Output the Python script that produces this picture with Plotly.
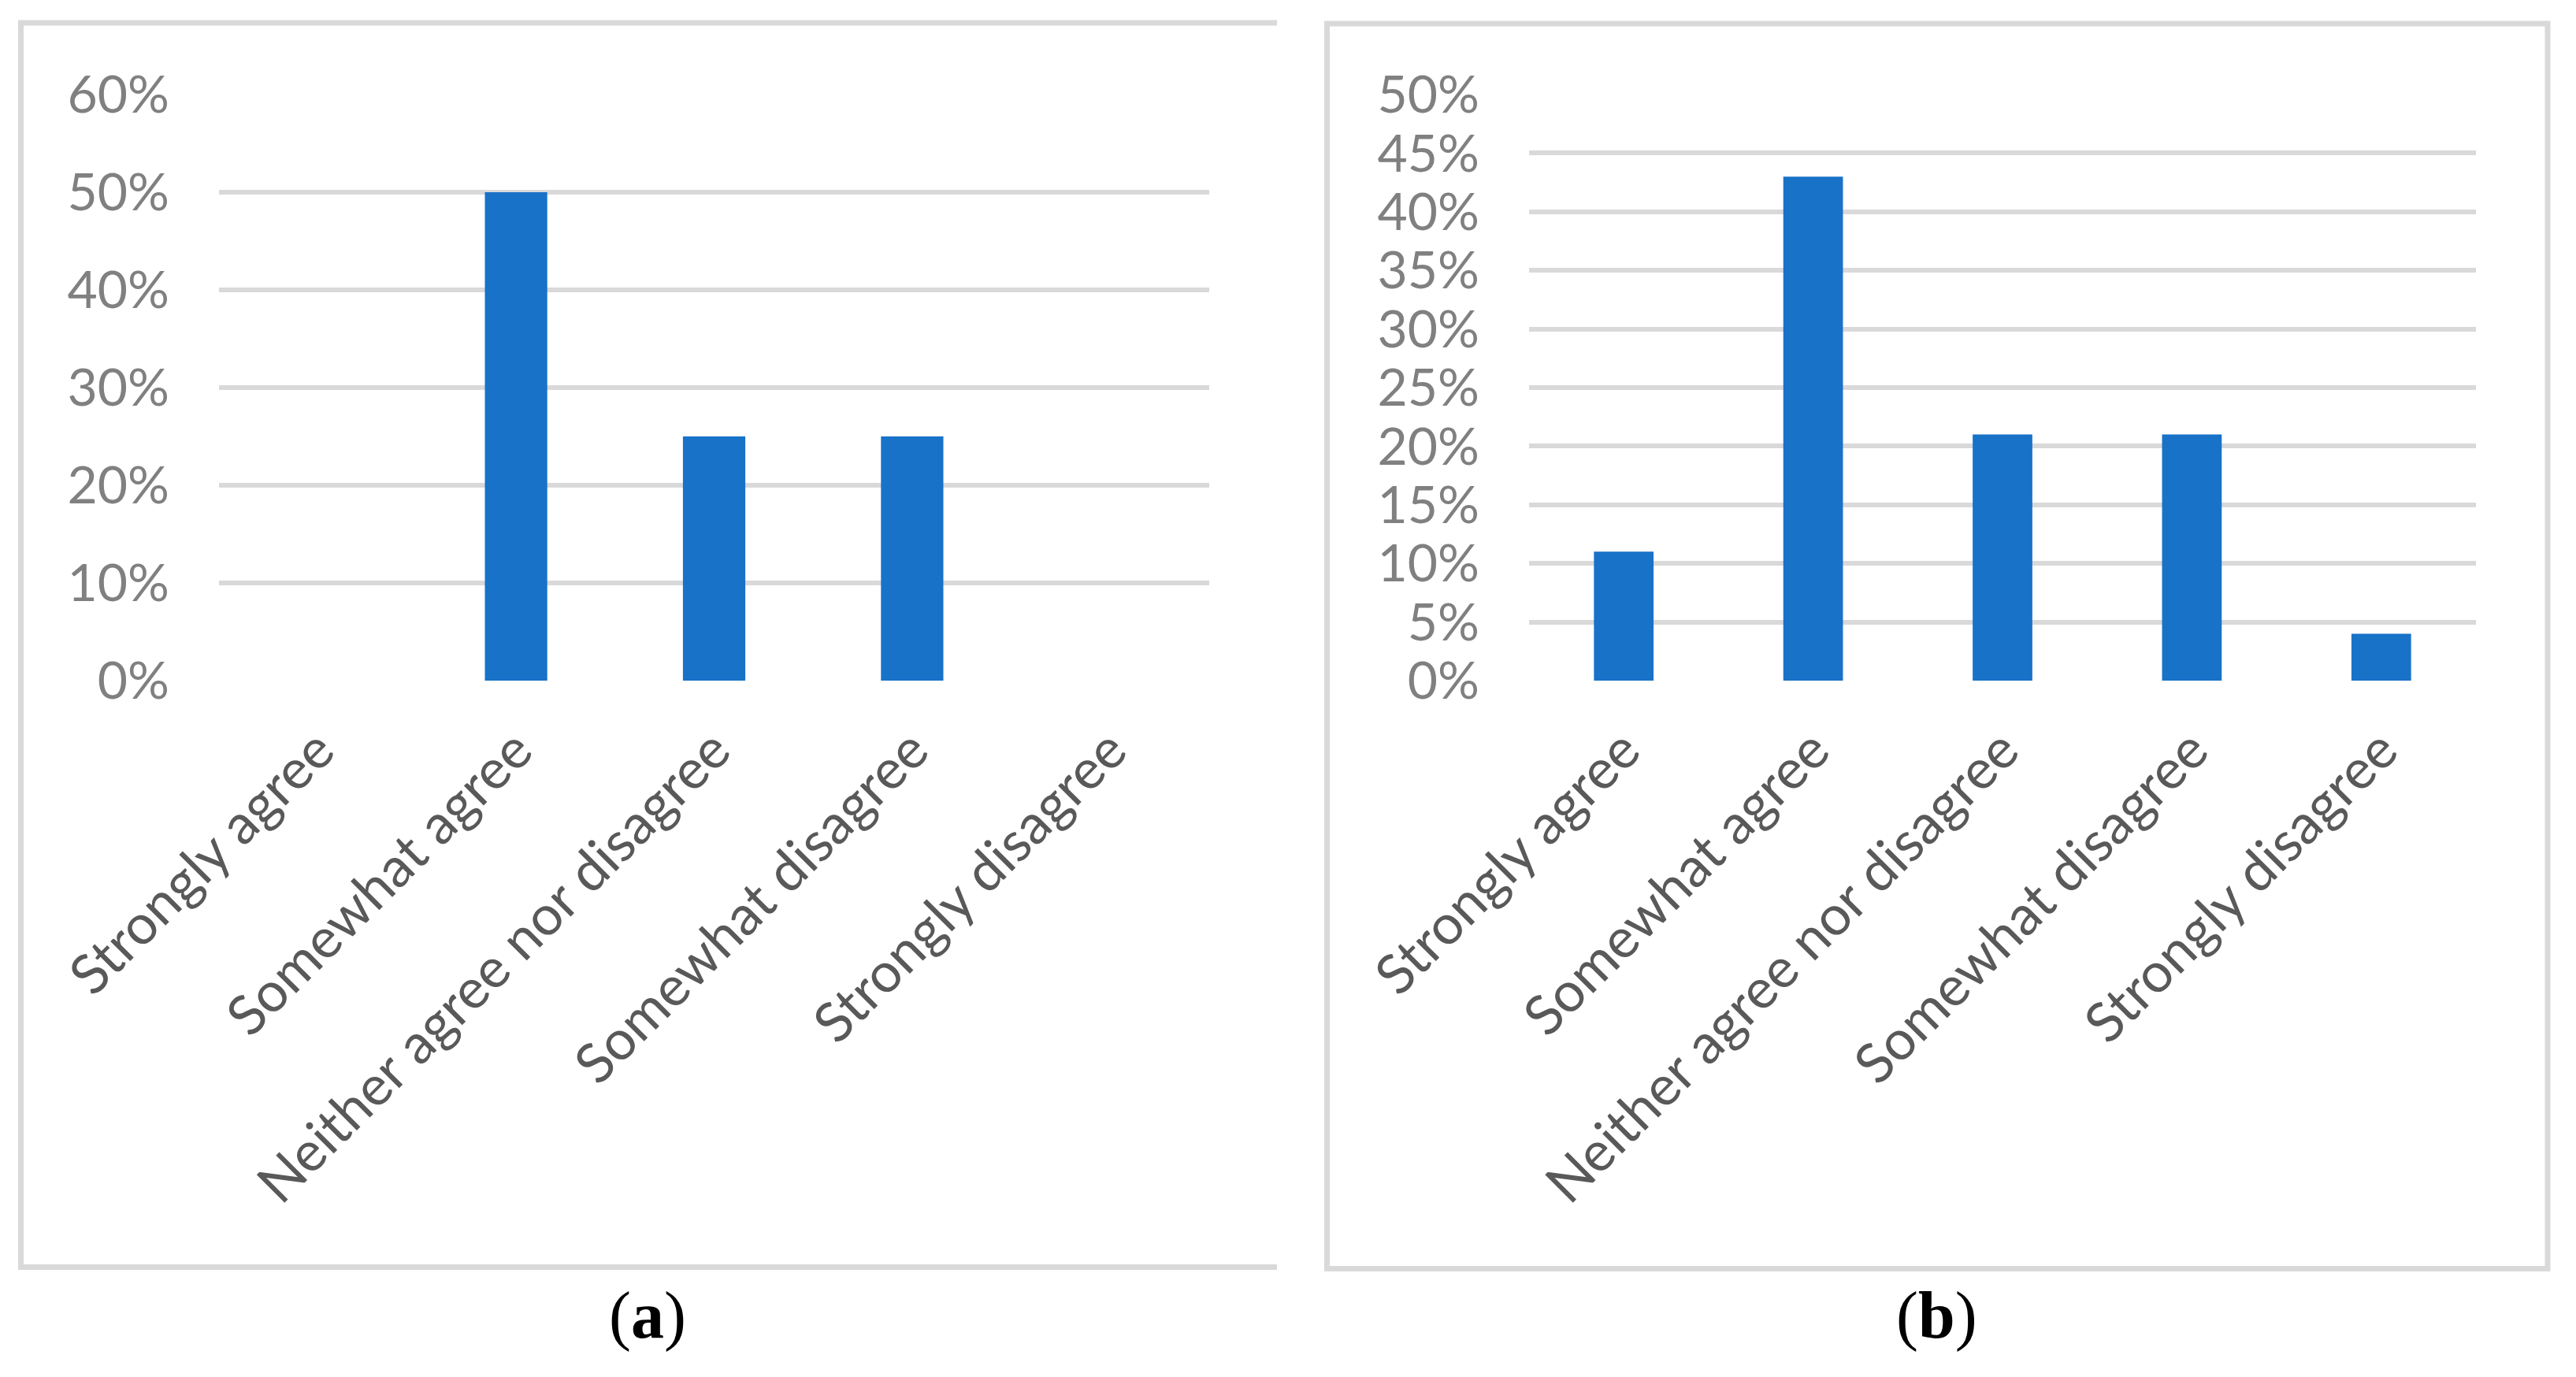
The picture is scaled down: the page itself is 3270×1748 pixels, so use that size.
import plotly.graph_objects as go

# page body has an 8px default margin; size figure to fit and offset coordinates
OFF = 8
W, H = 3270 - 2 * OFF, 1748 - 2 * OFF

categories = ["Strongly agree", "Somewhat agree", "Neither agree nor disagree",
              "Somewhat disagree", "Strongly disagree"]
values_a = [0.0, 0.50, 0.25, 0.25, 0.0]
values_b = [0.11, 0.43, 0.21, 0.21, 0.04]
captions = ["a", "b"]

BAR = "#1872C8"
GRID = "#D9D9D9"

def px(x):
    return (x - OFF) / W

def py(y):
    return 1 - (y - OFF) / H

fig = go.Figure()
fig.add_trace(go.Bar(x=categories, y=values_a, marker_color=BAR, marker_line_width=0,
                     width=0.315, xaxis="x", yaxis="y", showlegend=False))
fig.add_trace(go.Bar(x=categories, y=values_b, marker_color=BAR, marker_line_width=0,
                     width=0.315, xaxis="x2", yaxis="y2", showlegend=False))

xcommon = dict(type="category", range=[-0.5, 4.5], showgrid=False, zeroline=False,
               showline=False, ticks="", tickangle=-45, automargin=False,
               tickfont=dict(family="Lato", size=70, color="#595959"),
               ticklabelstandoff=32, fixedrange=True)
ycommon = dict(showgrid=True, gridcolor=GRID, gridwidth=6, zeroline=False,
               showline=False, ticks="", tickformat=".0%", automargin=False,
               tickfont=dict(family="Lato", size=66, color="#808080"),
               ticklabelstandoff=62, fixedrange=True)

y_dom = [py(864), py(120)]
fig.update_layout(
    width=W, height=H, autosize=False,
    margin=dict(l=0, r=0, t=0, b=0, pad=0, autoexpand=False),
    paper_bgcolor="white", plot_bgcolor="white",
    xaxis=dict(domain=[px(278), px(1535)], anchor="y", **xcommon),
    yaxis=dict(domain=y_dom, anchor="x", range=[0, 0.6], dtick=0.1, **ycommon),
    xaxis2=dict(domain=[px(1941), px(3143)], anchor="y2", **xcommon),
    yaxis2=dict(domain=y_dom, anchor="x2", range=[0, 0.5], dtick=0.05, **ycommon),
)

line = dict(color=GRID, width=7)
shapes = [
    # panel a (right edge cropped)
    dict(type="line", xref="paper", yref="paper", x0=px(23), x1=px(1621), y0=py(29), y1=py(29), line=line),
    dict(type="line", xref="paper", yref="paper", x0=px(26.5), x1=px(26.5), y0=py(26), y1=py(1612), line=line),
    dict(type="line", xref="paper", yref="paper", x0=px(23), x1=px(1621), y0=py(1608.5), y1=py(1608.5), line=line),
    # panel b
    dict(type="rect", xref="paper", yref="paper", x0=px(1684.5), x1=px(3234), y0=py(30), y1=py(1610.5), line=line),
]
fig.update_layout(shapes=shapes)

for cap, cx in zip(captions, [822, 2458]):
    fig.add_annotation(xref="paper", yref="paper", x=px(cx), y=py(1670),
                       text="(<b>%s</b>)" % cap, showarrow=False,
                       font=dict(family="Liberation Serif", size=84, color="black"),
                       xanchor="center", yanchor="middle")

fig.write_html("out.html", config={"responsive": False})
